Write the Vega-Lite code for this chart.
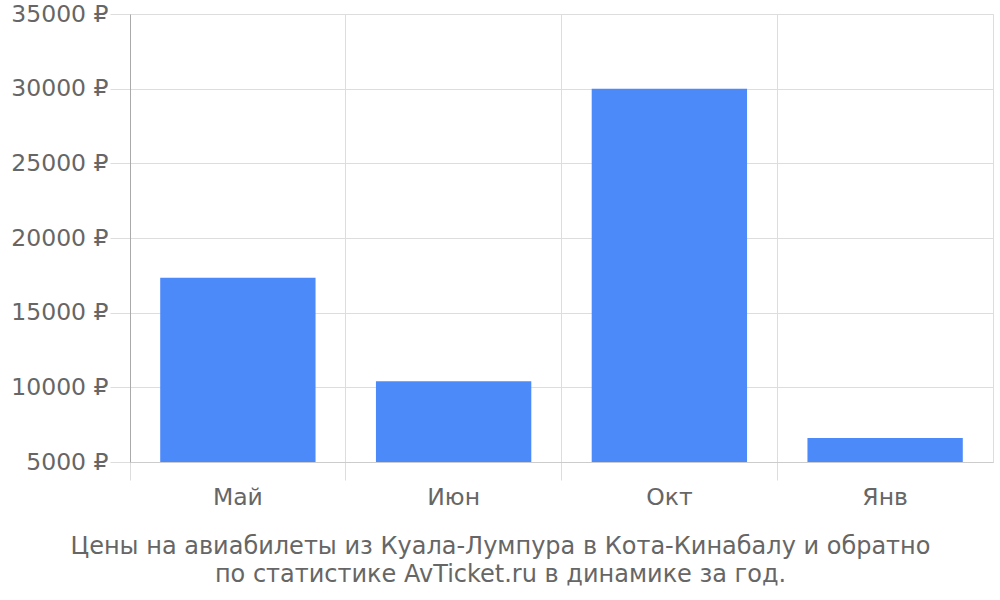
{
  "$schema": "https://vega.github.io/schema/vega-lite/v6.json",
  "autosize": "none",
  "width": 863,
  "height": 448,
  "padding": {"left": 130, "top": 14, "right": 7, "bottom": 138},
  "background": "white",
  "config": {
    "font": "DejaVu Sans",
    "view": {"stroke": "#dddddd", "strokeWidth": 1}
  },
  "title": {
    "text": ["Цены на авиабилеты из Куала-Лумпура в Кота-Кинабалу и обратно", "по статистике AvTicket.ru в динамике за год."],
    "orient": "bottom",
    "anchor": "middle",
    "dx": -61,
    "offset": 26,
    "font": "DejaVu Sans",
    "fontSize": 24,
    "fontWeight": "normal",
    "color": "#666666",
    "lineHeight": 28
  },
  "data": {
    "values": [
      {"month": "Май", "price": 17330},
      {"month": "Июн", "price": 10400},
      {"month": "Окт", "price": 30000},
      {"month": "Янв", "price": 6600}
    ]
  },
  "mark": {"type": "bar", "color": "#4d8af9"},
  "encoding": {
    "x": {
      "field": "month",
      "type": "nominal",
      "sort": null,
      "scale": {"paddingInner": 0.28, "paddingOuter": 0.14},
      "axis": {
        "title": null,
        "labelAngle": 0,
        "labelFontSize": 23.5,
        "labelColor": "#666666",
        "labelPadding": 5,
        "bandPosition": -0.194,
        "grid": true,
        "gridColor": "#dddddd",
        "tickSize": 18,
        "tickColor": "#dddddd",
        "domainColor": "#cccccc",
        "labelOffset": 0
      }
    },
    "y": {
      "field": "price",
      "type": "quantitative",
      "scale": {"domain": [5000, 35000], "nice": false, "zero": false},
      "axis": {
        "title": null,
        "values": [5000, 10000, 15000, 20000, 25000, 30000, 35000],
        "labelExpr": "datum.value + ' ₽'",
        "labelFontSize": 23.5,
        "labelColor": "#666666",
        "labelPadding": 2,
        "tickSize": 20,
        "tickColor": "#dddddd",
        "gridColor": "#dddddd",
        "domainColor": "#aaaaaa"
      }
    },
    "y2": {"datum": 5000}
  }
}
